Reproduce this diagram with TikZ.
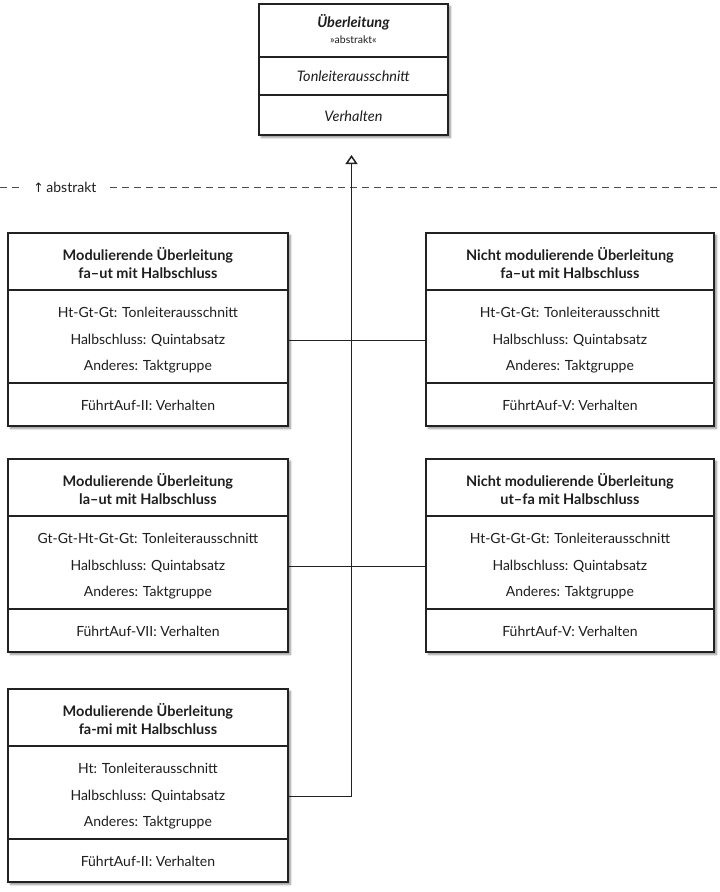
\documentclass[tikz,border=0pt]{standalone}
\usepackage{fontspec}
\setmainfont{Lato}
\newfontfamily\symfont{DejaVu Sans}
\usetikzlibrary{arrows.meta,shadows.blur}
\definecolor{ink}{HTML}{1E1E1E}
\definecolor{edge}{HTML}{222222}
\tikzset{
  cbox/.style={draw=edge, line width=1.8pt, fill=white, rectangle, inner sep=0pt,
    blur shadow={shadow xshift=2.5pt, shadow yshift=-2.5pt, shadow blur steps=6, shadow opacity=45}},
  sepline/.style={draw=edge, line width=1.5pt},
  titletext/.style={align=center, text=ink, font=\fontsize{14.5}{18}\selectfont\bfseries, inner sep=0pt},
  attrtext/.style={align=center, text=ink, font=\fontsize{14}{26.5}\selectfont, inner sep=0pt},
  conn/.style={draw=edge, line width=1.7pt},
  gen/.style={conn, -{Triangle[open, width=12pt, length=9pt, line width=1.5pt]}},
  dashline/.style={draw=black!70, line width=0.9pt, dash pattern=on 7pt off 5pt},
}
\newcommand{\classbox}[8]{%
  \node[cbox, minimum width=#4, minimum height=193pt, anchor=north west] (#1) at (#2,#3) {};
  \draw[sepline] ([yshift=-58pt]#1.north west) -- ([yshift=-58pt]#1.north east);
  \draw[sepline] ([yshift=-151pt]#1.north west) -- ([yshift=-151pt]#1.north east);
  \node[titletext] (#1-t) at ([yshift=-31pt]#1.north) {#5};
  \node[attrtext] (#1-a) at ([yshift=-108.5pt]#1.north) {#6\\#7};
  \node[attrtext] (#1-m) at ([yshift=-173pt]#1.north) {#8};
}
\begin{document}
\begin{tikzpicture}
\useasboundingbox (0,0) rectangle (720pt,-892pt);
% abstract class
\node[cbox, minimum width=189pt, minimum height=131pt, anchor=north west] (top) at (258pt,-3pt) {};
\draw[sepline] ([yshift=-54pt]top.north west) -- ([yshift=-54pt]top.north east);
\draw[sepline] ([yshift=-92pt]top.north west) -- ([yshift=-92pt]top.north east);
\node[text=ink, font=\fontsize{14.5}{16}\selectfont\bfseries\itshape, inner sep=0pt] (topname) at ([yshift=-19pt]top.north) {Überleitung};
\node[text=ink, font=\fontsize{10.5}{12}\selectfont, inner sep=0pt] (topster) at ([yshift=-37pt]top.north) {»abstrakt«};
\node[text=ink, font=\fontsize{14.5}{16}\selectfont\itshape, inner sep=0pt] (topattr) at ([yshift=-73pt]top.north) {Tonleiterausschnitt};
\node[text=ink, font=\fontsize{14.5}{16}\selectfont\itshape, inner sep=0pt] (topmeth) at ([yshift=-113pt]top.north) {Verhalten};
% abstract boundary
\node[text=ink, font=\fontsize{14}{16}\selectfont, inner sep=0pt, anchor=west] (abs) at (33pt,-187pt) {{\symfont\fontsize{13}{14}\selectfont ↑}\,abstrakt};
\coordinate (dl0) at (0pt,-187pt);
\coordinate (dl1) at (22pt,-187pt);
\coordinate (dl2) at (110pt,-187pt);
\coordinate (dl3) at (720pt,-187pt);
\draw[dashline] (dl0) -- (dl1);
\draw[dashline] (dl2) -- (dl3);
% concrete classes
\classbox{b1}{7pt}{-232pt}{280pt}{Modulierende Überleitung\\fa–ut mit Halbschluss}{Ht-Gt-Gt: Tonleiterausschnitt\\Halbschluss: Quintabsatz}{Anderes: Taktgruppe}{FührtAuf-II: Verhalten}
\classbox{b2}{425pt}{-232pt}{288pt}{Nicht modulierende Überleitung\\fa–ut mit Halbschluss}{Ht-Gt-Gt: Tonleiterausschnitt\\Halbschluss: Quintabsatz}{Anderes: Taktgruppe}{FührtAuf-V: Verhalten}
\classbox{b3}{7pt}{-458pt}{280pt}{Modulierende Überleitung\\la–ut mit Halbschluss}{Gt-Gt-Ht-Gt-Gt: Tonleiterausschnitt\\Halbschluss: Quintabsatz}{Anderes: Taktgruppe}{FührtAuf-VII: Verhalten}
\classbox{b4}{425pt}{-458pt}{288pt}{Nicht modulierende Überleitung\\ut–fa mit Halbschluss}{Ht-Gt-Gt-Gt: Tonleiterausschnitt\\Halbschluss: Quintabsatz}{Anderes: Taktgruppe}{FührtAuf-V: Verhalten}
\classbox{b5}{7pt}{-688pt}{280pt}{Modulierende Überleitung\\fa-mi mit Halbschluss}{Ht: Tonleiterausschnitt\\Halbschluss: Quintabsatz}{Anderes: Taktgruppe}{FührtAuf-II: Verhalten}
% generalization connectors
\coordinate (tip) at (351.5pt,-155pt);
\draw[conn] (b1.east |- b1-a) -- (b2.west |- b1-a);
\draw[conn] (b3.east |- b3-a) -- (b4.west |- b3-a);
\draw[gen] (b5.east |- b5-a) -| (tip);
\end{tikzpicture}
\end{document}
